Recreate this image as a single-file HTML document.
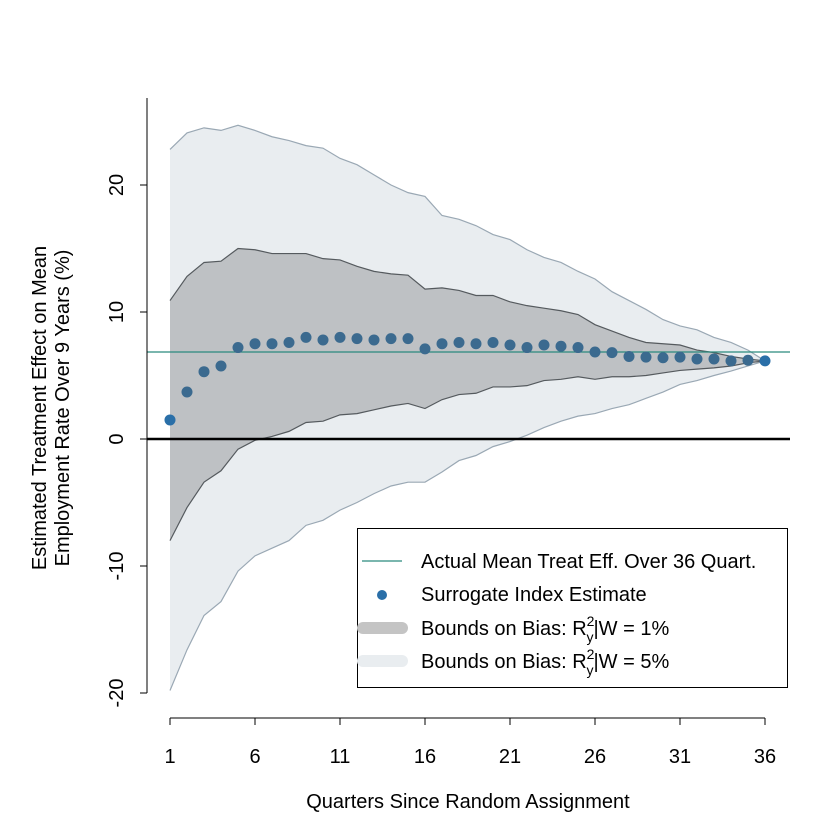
<!DOCTYPE html>
<html><head><meta charset="utf-8"><style>
html,body{margin:0;padding:0;background:#fff;}
svg{display:block;font-family:"Liberation Sans",sans-serif;}
</style></head><body>
<svg id="chart" width="840" height="840" viewBox="0 0 840 840">
<g id="bands"></g>
<line x1="147" y1="439" x2="790" y2="439" stroke="#000" stroke-width="2.5"/>
<g id="actual"></g>
<g id="points"></g>
<g id="axes"></g>
<text x="468" y="808" font-size="20" text-anchor="middle">Quarters Since Random Assignment</text>
<text transform="translate(46,408) rotate(-90)" font-size="20" text-anchor="middle"><tspan x="0" dy="0">Estimated Treatment Effect on Mean</tspan><tspan x="0" dy="23">Employment Rate Over 9 Years (%)</tspan></text>
<g>
<rect x="357.5" y="528.5" width="430" height="159" fill="#fff" stroke="#000" stroke-width="1"/>
<line x1="362" y1="561" x2="402" y2="561" stroke="#2a8a7e" stroke-width="1.2"/>
<text x="421" y="568" font-size="20">Actual Mean Treat Eff. Over 36 Quart.</text>
<circle cx="382" cy="595" r="5" fill="#2a6fa8"/>
<text x="421" y="601" font-size="20">Surrogate Index Estimate</text>
<line x1="363" y1="628" x2="402" y2="628" stroke="#c4c4c4" stroke-width="12" stroke-linecap="round"/>
<text x="421" y="635" font-size="20">Bounds on Bias: R<tspan dy="-9" font-size="14">2</tspan><tspan dx="-8" dy="16" font-size="14">y</tspan><tspan dy="-7">|W = 1%</tspan></text>
<line x1="363" y1="661" x2="402" y2="661" stroke="#e9edf0" stroke-width="12" stroke-linecap="round"/>
<text x="421" y="668" font-size="20">Bounds on Bias: R<tspan dy="-9" font-size="14">2</tspan><tspan dx="-8" dy="16" font-size="14">y</tspan><tspan dy="-7">|W = 5%</tspan></text>
</g>
</svg>
<script>
const quarters = Array.from({length:36},(_,i)=>i+1);
const estimate = [1.5,3.7,5.3,5.75,7.2,7.5,7.5,7.6,8.0,7.8,8.0,7.9,7.8,7.9,7.9,7.1,7.5,7.6,7.5,7.6,7.4,7.2,7.4,7.3,7.2,6.85,6.8,6.5,6.45,6.4,6.45,6.3,6.3,6.15,6.2,6.15];
const upper1 = [10.9,12.8,13.9,14.0,15.0,14.9,14.6,14.6,14.6,14.2,14.1,13.6,13.2,13.0,12.9,11.8,11.9,11.7,11.3,11.3,10.8,10.5,10.3,10.1,9.8,9.0,8.5,8.0,7.6,7.5,7.4,7.0,6.8,6.5,6.3,6.15];
const lower1 = [-8.0,-5.4,-3.4,-2.5,-0.8,-0.1,0.2,0.6,1.3,1.4,1.9,2.0,2.3,2.6,2.8,2.4,3.1,3.5,3.6,4.1,4.1,4.2,4.6,4.7,4.9,4.7,4.9,4.9,5.0,5.2,5.4,5.5,5.6,5.75,6.0,6.15];
const upper5 = [22.8,24.1,24.5,24.3,24.7,24.3,23.8,23.5,23.1,22.9,22.1,21.6,20.8,20.0,19.4,19.1,17.6,17.3,16.8,16.1,15.7,14.9,14.3,13.9,13.2,12.6,11.6,10.9,10.2,9.4,8.9,8.6,8.0,7.6,7.0,6.15];
const lower5 = [-19.8,-16.6,-13.9,-12.8,-10.4,-9.2,-8.6,-8.0,-6.8,-6.4,-5.6,-5.0,-4.3,-3.7,-3.4,-3.4,-2.6,-1.7,-1.3,-0.6,-0.2,0.3,0.9,1.4,1.8,2.0,2.4,2.7,3.2,3.7,4.3,4.6,5.0,5.35,5.75,6.15];
const actualEffect = 6.85;
const xTicks = [1,6,11,16,21,26,31,36];
const yTicks = [-20,-10,0,10,20];

const NS='http://www.w3.org/2000/svg';
const X = q => 170 + (q-1)*17;
const Y = v => 439 - v*12.7;
function mk(tag, attrs, parent){const e=document.createElementNS(NS,tag);for(const k in attrs)e.setAttribute(k,attrs[k]);parent.appendChild(e);return e;}

function band(up, lo, fill, stroke, name, parent){
  const top = quarters.map((q,i)=>X(q)+','+Y(up[i]));
  const bot = quarters.map((q,i)=>X(q)+','+Y(lo[i])).reverse();
  const p = mk('polygon',{points:top.concat(bot).join(' '),fill:fill,stroke:'none'},parent);
  
  
  const l1 = mk('polyline',{points:top.join(' '),fill:'none',stroke:stroke,'stroke-width':1.2},parent);
  
  
  const l2 = mk('polyline',{points:quarters.map((q,i)=>X(q)+','+Y(lo[i])).join(' '),fill:'none',stroke:stroke,'stroke-width':1.2},parent);
  
  
}
const bands=document.getElementById('bands');
band(upper5, lower5, '#e9edf0', '#9aa8b4', 'band-5pct', bands);
band(upper1, lower1, '#bec1c4', '#555a5e', 'band-1pct', bands);

const act=document.getElementById('actual');
const al = mk('line',{x1:147,x2:790,y1:Y(actualEffect),y2:Y(actualEffect),stroke:'#2a8a7e','stroke-width':1.2},act);



const pts=document.getElementById('points');
quarters.forEach((q,i)=>{
  const c = mk('circle',{cx:X(q),cy:Y(estimate[i]),r:5.5,fill:(i===0||i===35)?'#2a6fa8':'#3b6a8f'},pts);
  
  
});

const ax=document.getElementById('axes');
const ya = mk('line',{x1:147,x2:147,y1:Y(yTicks[0]),y2:98,stroke:'#000','stroke-width':1},ax);


yTicks.forEach(v=>{
  const t = mk('line',{x1:140,x2:147,y1:Y(v),y2:Y(v),stroke:'#000'},ax);
  
  
  const tx = mk('text',{transform:`translate(123,${Y(v)}) rotate(-90)`,'font-size':20,'text-anchor':'middle'},ax);
  tx.textContent = String(v);
  
  
});
const xa = mk('line',{x1:X(xTicks[0]),x2:X(xTicks[xTicks.length-1]),y1:718,y2:718,stroke:'#000'},ax);


xTicks.forEach(q=>{
  const t = mk('line',{x1:X(q),x2:X(q),y1:718,y2:725,stroke:'#000'},ax);
  
  
  const tx = mk('text',{x:X(q),y:763,'font-size':20,'text-anchor':'middle'},ax);
  tx.textContent = String(q);
  
  
});
</script>
</body></html>
